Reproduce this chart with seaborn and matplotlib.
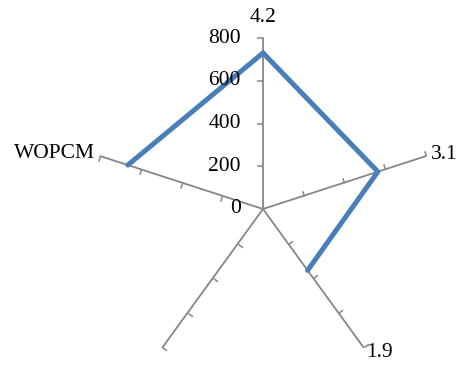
import numpy as np
import matplotlib
matplotlib.use('Agg')
import matplotlib.pyplot as plt
from matplotlib.markers import MarkerStyle
from matplotlib.path import Path
from matplotlib.transforms import Affine2D
import seaborn as sns

# categories clockwise from the top; the lower-left one has no name
categories = ["4.2", "3.1", "1.9", "", "WOPCM"]
values = [730, 565, 355, np.nan, 665]
r_ticks = [0, 200, 400, 600, 800]
r_max = 800

sns.set_theme(style="white")
plt.rcParams['font.family'] = ['Liberation Serif', 'DejaVu Serif']
plt.rcParams['text.color'] = 'black'

fig = plt.figure(figsize=(4.58, 3.65), dpi=100)
ax = fig.add_axes([0.2009, -0.0411, 0.7467, 0.937], projection='polar')
ax.set_theta_offset(np.pi / 2)
ax.set_theta_direction(-1)
ax.set_ylim(0, r_max)
ax.grid(False)
ax.spines['polar'].set_visible(False)
ax.set_xticks([])
ax.set_yticks([])
ax.patch.set_alpha(0)

n = len(categories)
theta = np.arange(n) * 2 * np.pi / n
axis_col = '#868686'

# spokes with one-sided tick marks (counter-clockwise side)
tick_path = Path([(0, 0), (1, 0)])
for i, th in enumerate(theta):
    ax.plot([th, th], [0, r_max], color=axis_col, lw=1.3, clip_on=False, zorder=2)
    disp_ang = 90 - np.degrees(th) + 90
    mk = MarkerStyle(tick_path, transform=Affine2D().rotate_deg(disp_ang))
    ax.plot(np.full(len(r_ticks) - 1, th), r_ticks[1:], ls='none', marker=mk,
            markersize=8, markeredgecolor=axis_col, markeredgewidth=1.1,
            clip_on=False, zorder=2)

# data series, closed back to the first point; the NaN leaves the gap
th_closed = np.append(theta, theta[0] + 2 * np.pi)
v_closed = np.append(values, values[0])
ax.plot(th_closed, v_closed, color='#4A7EBB', lw=3.6, solid_capstyle='round',
        clip_on=False, zorder=3)

# radial value labels to the left of the top spoke
for r in r_ticks:
    ax.annotate(str(r), xy=(theta[0], r), xytext=(-16, 0), textcoords='offset points',
                ha='right', va='center', fontsize=15.5, color='black')

# category labels at the spoke ends
label_pos = {
    0: ((0, 8), 'center', 'bottom'),
    1: ((4, 1), 'left', 'center'),
    2: ((2, -4), 'left', 'center'),
    3: ((-4, -4), 'right', 'center'),
    4: ((-4, 2), 'right', 'center'),
}
for i, cat in enumerate(categories):
    off, ha, va = label_pos[i]
    ax.annotate(cat, xy=(theta[i], r_max), xytext=off, textcoords='offset points',
                ha=ha, va=va, fontsize=15.5, color='black')

fig.savefig('out.png', dpi=100)
